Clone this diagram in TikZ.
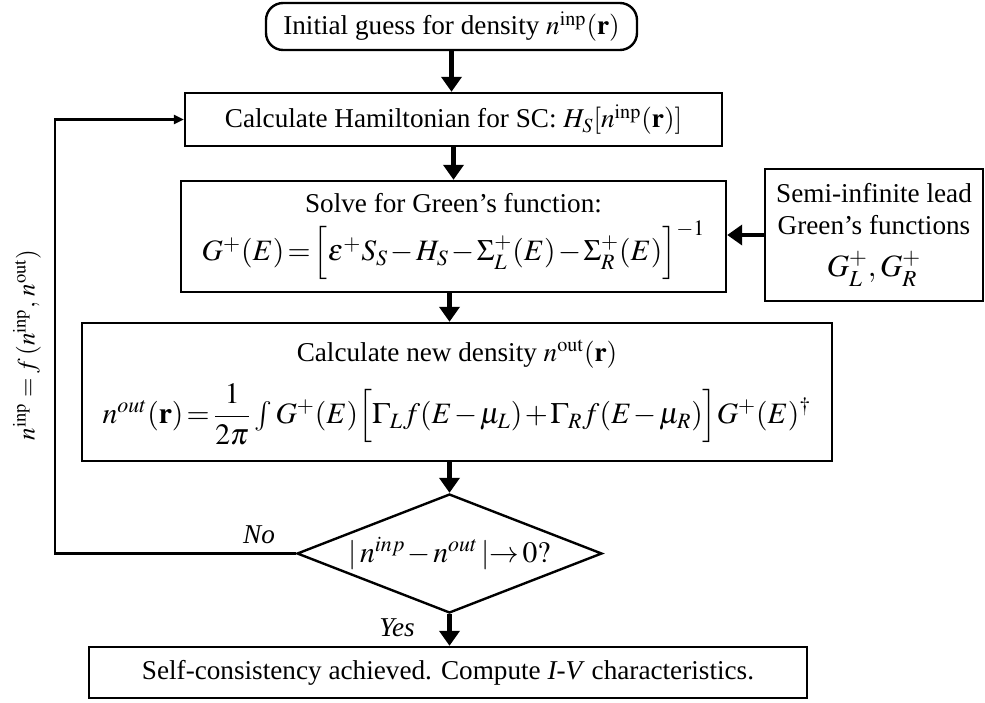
\documentclass[tikz,border=0pt]{standalone}
\usepackage{amsmath}
\usepackage{mathptmx}
\usepackage[no-math]{fontspec}
\setmainfont{Liberation Serif}
\usetikzlibrary{positioning,arrows.meta,shapes.geometric}
\newcommand{\eqsize}{\fontsize{14.8}{17}\selectfont\thickmuskip=2mu\medmuskip=1.5mu}

\begin{document}
\begin{tikzpicture}[
  x=0.5pt,y=-0.5pt,
  font=\fontsize{13.6}{16}\selectfont,
  >=Latex,
  box/.style={draw,line width=1.2pt,inner sep=0pt,align=center},
  startbox/.style={box,rounded corners=3mm},
  decision/.style={draw,diamond,line width=1.2pt,inner sep=0pt,aspect=2.56},
  flow/.style={-{Triangle[width=10pt,length=7.5pt]},line width=2.2pt},
  back/.style={-{Triangle[width=4.5pt,length=5pt]},line width=1.2pt},
  lbl/.style={font=\fontsize{13.6}{16}\selectfont\itshape}
]
\useasboundingbox (0,0) rectangle (985,702);

% Main column
\node[startbox,minimum width=185.5pt,minimum height=23.5pt] (guess) at (451.5,26.5)
  {Initial guess for density $n^{\mathrm{inp}}(\mathbf{r})$};
\node[box,minimum width=268.5pt,minimum height=26.5pt] (ham) at (453.5,119.5)
  {Calculate Hamiltonian for SC: $H_S[n^{\mathrm{inp}}(\mathbf{r})]$};
\node[box,minimum width=272.5pt,minimum height=55.5pt] (green) at (453.5,236.5)
  {Solve for Green's function:\\[3pt]
   {\eqsize $G^{+}(E)=\Big[\varepsilon^{+}S_S-H_S-\Sigma_L^{+}(E)-\Sigma_R^{+}(E)\Big]^{-1}$}};
\node[box,minimum width=109pt,minimum height=66pt] (lead) at (874,235)
  {Semi-infinite lead\\Green's functions\\[5pt]
   {\fontsize{15.5}{18}\selectfont $G_L^{+},G_R^{+}$}};
\node[box,minimum width=375pt,minimum height=69pt] (dens) at (457,392)
  {Calculate new density $n^{\mathrm{out}}(\mathbf{r})$\\[7pt]
   {\eqsize $n^{out}(\mathbf{r})=\dfrac{1}{2\pi}\int G^{+}(E)\Big[\Gamma_L f(E-\mu_L)+\Gamma_R f(E-\mu_R)\Big]G^{+}(E)^{\dagger}$}};
\node[decision,minimum width=152.5pt,minimum height=59.5pt,font=\eqsize] (check) at (449.5,553.5)
  {$|\,n^{inp}-n^{out}\,|\!\rightarrow 0?$};
\node[box,minimum width=359pt,minimum height=25.5pt] (done) at (448,672.5)
  {Self-consistency achieved. Compute \textit{I-V} characteristics.};

% Arrows down the column
\draw[flow] (guess.south) -- (guess.south |- ham.north);
\draw[flow] (ham.south) -- (ham.south |- green.north);
\draw[flow] (green.south -| check.north) -- (check.north |- dens.north);
\draw[flow] (dens.south -| check.north) -- (check.north);
\draw[flow] (check.south) -- (check.south |- done.north);
\draw[flow] (lead.west) -- (lead.west -| green.east);

% Loop back when not converged
\coordinate (turn) at (55,119.5);
\draw[back] (check.west) -| (turn) |- (ham.west);
\node[lbl] (no) at (259,535) {No};
\node[lbl] (yes) at (397,628) {Yes};
\node[rotate=90,font=\fontsize{12.5}{15}\selectfont] (mix) at (27,345)
  {$n^{\mathrm{inp}}=f\,(n^{\mathrm{inp}},\,n^{\mathrm{out}})$};

\end{tikzpicture}
\end{document}
